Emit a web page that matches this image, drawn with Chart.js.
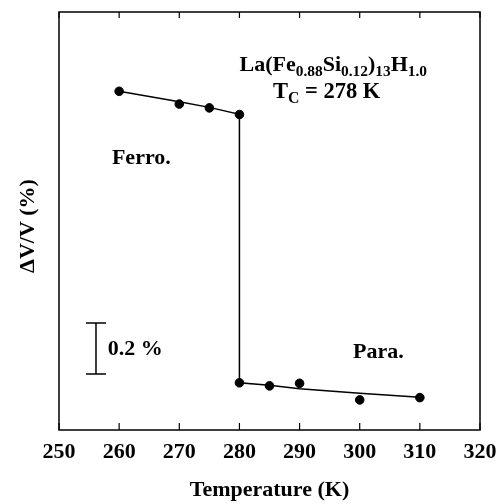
<!DOCTYPE html>
<html>
<head>
<meta charset="utf-8">
<script src="https://cdn.jsdelivr.net/npm/chart.js@4/dist/chart.umd.min.js"></script>
<style>
  body { margin: 0; background: #fff; }
  canvas { display: block; }
</style>
</head>
<body>
<canvas id="chart" width="501" height="504"></canvas>
<script>
// measured points (temperature in K, relative volume change in %, arbitrary offset)
var tempPts = [260, 270, 275, 280, 280, 285, 290, 300, 310];
var dvPts = [1.328, 1.278, 1.263, 1.237, 0.185, 0.173, 0.183, 0.118, 0.127];

// fitted line drawn through the data, with the jump at 280 K
var tempFit = [260, 270, 275, 280, 280, 285, 290, 300, 310];
var dvFit = [1.328, 1.287, 1.265, 1.238, 0.185, 0.175, 0.162, 0.144, 0.128];

var xTicks = [250, 260, 270, 280, 290, 300, 310, 320];
var yMax = 1.639;

// 0.2 % scale bar
var barX = 256.15;
var barLo = 0.22;
var barSpan = 0.2;

var serif = '"Liberation Serif", "Times New Roman", serif';

function toXY(xs, ys) {
  return xs.map(function (x, i) { return { x: x, y: ys[i] }; });
}

// draws text made of pieces, some of them subscripts
function drawRich(ctx, parts, cx, baseline, size) {
  var total = 0;
  parts.forEach(function (p) {
    ctx.font = 'bold ' + (p.sub ? size * 0.7 : size) + 'px ' + serif;
    p.w = ctx.measureText(p.t).width;
    total += p.w;
  });
  var x = cx - total / 2;
  parts.forEach(function (p) {
    ctx.font = 'bold ' + (p.sub ? size * 0.7 : size) + 'px ' + serif;
    ctx.fillText(p.t, x, p.sub ? baseline + size * 0.22 : baseline);
    x += p.w;
  });
}

var decor = {
  id: 'decor',
  afterDraw: function (chart) {
    var ctx = chart.ctx;
    var a = chart.chartArea;
    var xs = chart.scales.x;
    var ys = chart.scales.y;
    ctx.save();
    ctx.strokeStyle = '#000';
    ctx.fillStyle = '#000';

    // frame
    ctx.lineWidth = 1.5;
    ctx.strokeRect(a.left, a.top, a.right - a.left, a.bottom - a.top);

    // inward ticks, top and bottom
    ctx.lineWidth = 1.2;
    xTicks.forEach(function (t) {
      var px = xs.getPixelForValue(t);
      ctx.beginPath();
      ctx.moveTo(px, a.bottom);
      ctx.lineTo(px, a.bottom - 7);
      ctx.moveTo(px, a.top);
      ctx.lineTo(px, a.top + 6);
      ctx.stroke();
    });

    // scale bar
    var bx = xs.getPixelForValue(barX);
    var b1 = ys.getPixelForValue(barLo);
    var b2 = ys.getPixelForValue(barLo + barSpan);
    ctx.lineWidth = 1.5;
    ctx.beginPath();
    ctx.moveTo(bx, b1); ctx.lineTo(bx, b2);
    ctx.moveTo(bx - 10, b1); ctx.lineTo(bx + 10, b1);
    ctx.moveTo(bx - 10, b2); ctx.lineTo(bx + 10, b2);
    ctx.stroke();

    ctx.textBaseline = 'alphabetic';
    ctx.textAlign = 'left';
    ctx.font = 'bold 22px ' + serif;
    ctx.fillText('0.2 %', xs.getPixelForValue(258.1), ys.getPixelForValue(0.294));
    ctx.fillText('Ferro.', xs.getPixelForValue(258.8), ys.getPixelForValue(1.043));
    ctx.fillText('Para.', xs.getPixelForValue(298.9), ys.getPixelForValue(0.282));

    drawRich(ctx, [
      { t: 'La(Fe' }, { t: '0.88', sub: true }, { t: 'Si' }, { t: '0.12', sub: true },
      { t: ')' }, { t: '13', sub: true }, { t: 'H' }, { t: '1.0', sub: true }
    ], xs.getPixelForValue(295.6), ys.getPixelForValue(1.408), 22);
    drawRich(ctx, [
      { t: 'T' }, { t: 'C', sub: true }, { t: ' = 278 K' }
    ], xs.getPixelForValue(294.5), ys.getPixelForValue(1.302), 22.5);

    // y axis title
    ctx.translate(28, 226);
    ctx.rotate(-Math.PI / 2);
    ctx.textAlign = 'center';
    ctx.textBaseline = 'middle';
    ctx.font = 'bold 22px ' + serif;
    ctx.fillText('\u0394V/V (%)', 0, 0);
    ctx.restore();
  }
};

new Chart(document.getElementById('chart'), {
  type: 'line',
  data: {
    datasets: [
      {
        data: toXY(tempFit, dvFit),
        borderColor: '#000',
        borderWidth: 1.5,
        pointRadius: 0,
        tension: 0,
        fill: false
      },
      {
        type: 'scatter',
        data: toXY(tempPts, dvPts),
        backgroundColor: '#000',
        borderColor: '#000',
        pointRadius: 4.3,
        showLine: false
      }
    ]
  },
  options: {
    responsive: false,
    animation: false,
    layout: { padding: { left: 59, right: 21, top: 12, bottom: 0 } },
    plugins: { legend: { display: false }, tooltip: { enabled: false } },
    scales: {
      x: {
        type: 'linear',
        min: 250,
        max: 320,
        afterFit: function (s) {
          s.height = 74;
          s.paddingLeft = 0;
          s.paddingRight = 0;
        },
        afterBuildTicks: function (s) { s.ticks = xTicks.map(function (v) { return { value: v }; }); },
        grid: { display: false, drawTicks: false },
        border: { display: false },
        ticks: {
          color: '#000',
          padding: 9,
          font: { family: serif, size: 22, weight: 'bold' }
        },
        title: {
          display: true,
          text: 'Temperature (K)',
          color: '#000',
          padding: { top: 0, bottom: 0 },
          font: { family: serif, size: 22, weight: 'bold' }
        }
      },
      y: {
        display: false,
        min: 0,
        max: yMax
      }
    }
  },
  plugins: [decor]
});
</script>
</body>
</html>
